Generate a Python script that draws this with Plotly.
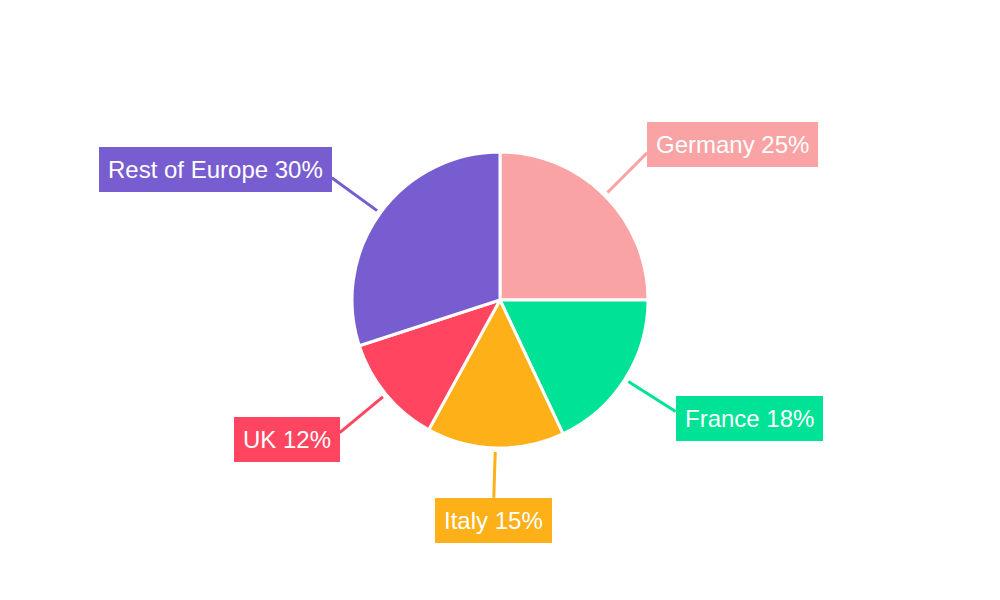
import math
import plotly.graph_objects as go

# market share by country
countries = ['Germany', 'France', 'Italy', 'UK', 'Rest of Europe']
shares = [25, 18, 15, 12, 30]
colors = ['#F9A3A4', '#00E396', '#FEB019', '#FF4560', '#775DD0']

W, H = 1000, 600
radius = 148  # px
# pie centre in paper coords (page body adds an 8px offset)
cx, cy = 0.5 - 8 / W, 0.5 + 8 / H

fig = go.Figure(go.Pie(
    labels=countries, values=shares, sort=False, direction='clockwise',
    rotation=0, textinfo='none', hoverinfo='label+percent',
    marker=dict(colors=colors, line=dict(color='white', width=3)),
    domain=dict(x=[cx - radius / W, cx + radius / W], y=[cy - radius / H, cy + radius / H]),
    showlegend=False,
))

# outside labels with leader lines, placed at each slice's mid angle
total = sum(shares)
start = 0
for name, val, col in zip(countries, shares, colors):
    mid = (start + val / 2) / total * 2 * math.pi
    start += val
    s, c = math.sin(mid), math.cos(mid)
    r_head = radius + 4
    if abs(s) < 0.2:
        line_len = 46
        xanchor, yanchor = 'center', ('top' if c < 0 else 'bottom')
        yshift = 0
    else:
        line_len = 56
        xanchor, yanchor = ('left' if s > 0 else 'right'), 'middle'
        yshift = 8 if c > 0 else -7
    r_tail = r_head + line_len
    x0, y0 = cx + r_head * s / W, cy + r_head * c / H
    x1, y1 = cx + r_tail * s / W, cy + r_tail * c / H
    fig.add_shape(type='line', xref='paper', yref='paper', x0=x0, y0=y0, x1=x1, y1=y1,
                  line=dict(color=col, width=3))
    fig.add_annotation(
        x=x1, y=y1, xref='paper', yref='paper', yshift=yshift,
        text=f'{name} {val}%', showarrow=False, bgcolor=col, borderpad=9, borderwidth=0,
        xanchor=xanchor, yanchor=yanchor,
        font=dict(family='Liberation Sans, Arial, sans-serif', size=24, color='white'),
    )

fig.update_layout(
    width=W, height=H, margin=dict(l=0, r=0, t=0, b=0),
    paper_bgcolor='white', plot_bgcolor='white',
)

fig.write_html('out.html')
